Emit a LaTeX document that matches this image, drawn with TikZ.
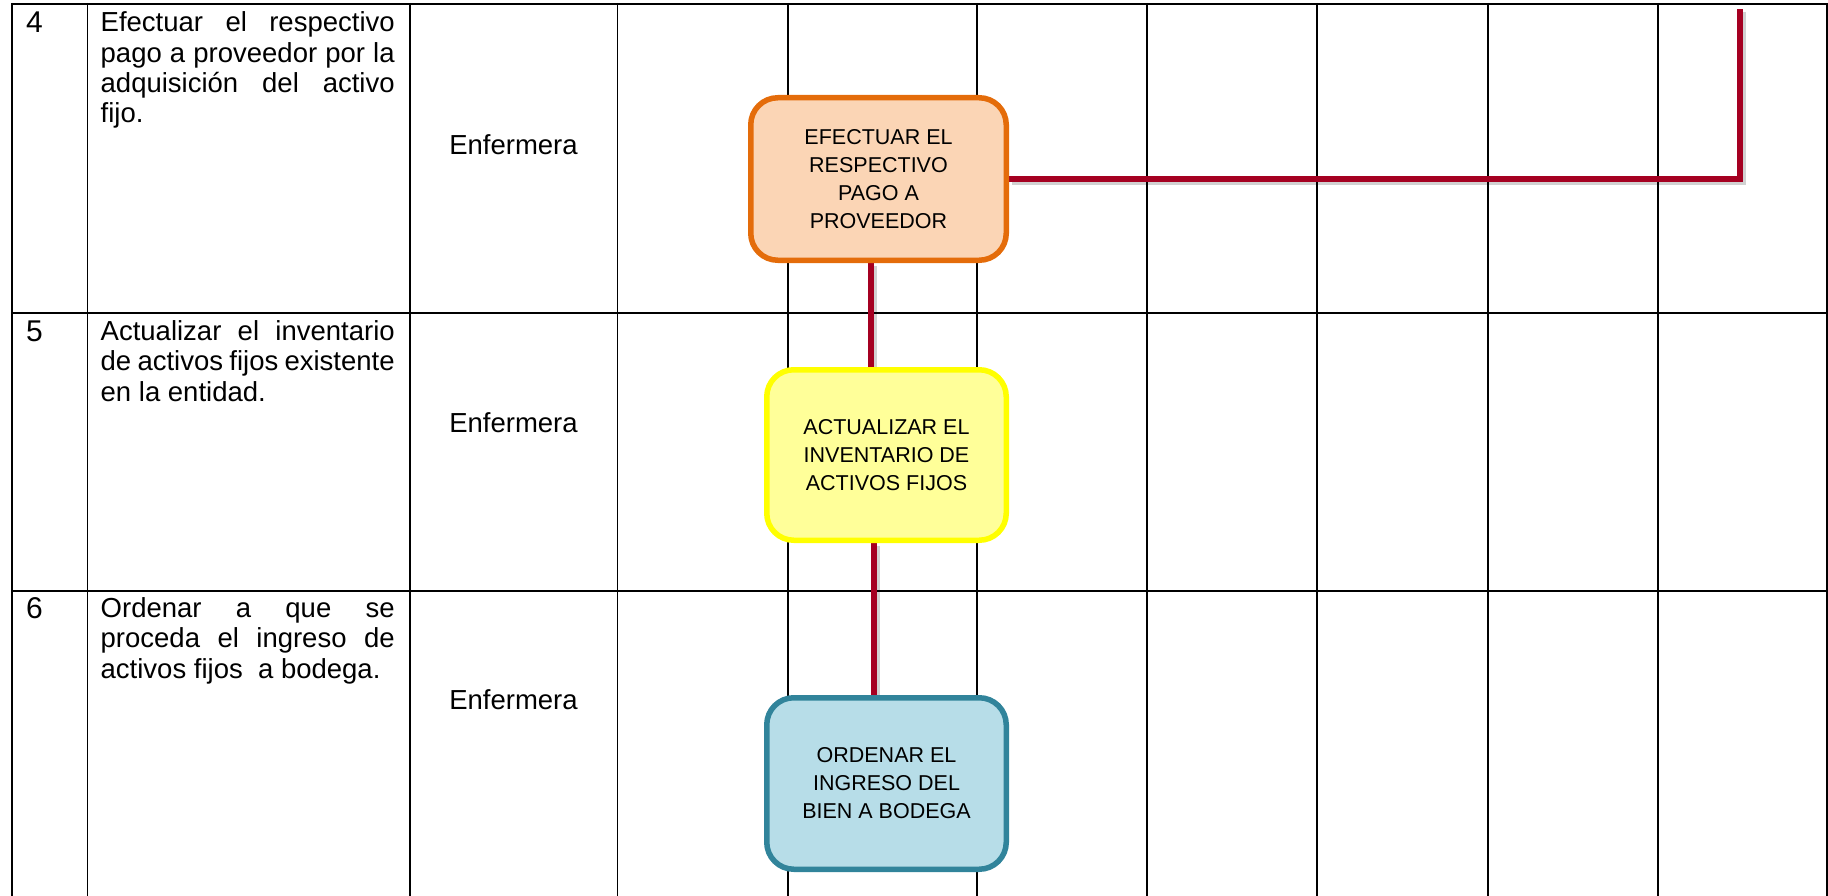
\documentclass[tikz,border=0pt]{standalone}
\usepackage{fontspec}
\setmainfont{Liberation Sans}
\usetikzlibrary{backgrounds}
\definecolor{conn}{HTML}{A50021}
\definecolor{orgS}{HTML}{E46C0A}
\definecolor{orgF}{HTML}{FBD5B5}
\definecolor{yelS}{HTML}{FFFF00}
\definecolor{yelF}{HTML}{FFFF99}
\definecolor{bluS}{HTML}{31849B}
\definecolor{bluF}{HTML}{B7DDE8}
\newcommand\jline[1]{\makebox[294pt][s]{#1}}
\newcommand\descfont{\fontsize{27.5}{30.3}\selectfont}
\begin{document}
\begin{tikzpicture}[x=1pt,y=-1pt,
  vline/.style={line width=1.9pt, black},
  hline/.style={line width=2.6pt, black},
  procbox/.style={rectangle, rounded corners=27pt, line width=5.5pt, align=center,
    font=\fontsize{21.5}{28}\selectfont, inner sep=0pt},
  numtxt/.style={anchor=base west, inner sep=0pt, font=\fontsize{30}{32}\selectfont},
  desctxt/.style={anchor=base west, inner sep=0pt},
  roltxt/.style={anchor=base, inner sep=0pt, font=\descfont},
  connline/.style={line width=5.4pt, draw=conn},
  connshadow/.style={line width=6pt, draw=black, opacity=0.18,
    transform canvas={shift={(3pt,-3pt)}}}
]
\useasboundingbox (0,0) rectangle (1828,896);

% process boxes
\node[procbox, draw=orgS, fill=orgF, minimum width=255.5pt, minimum height=162.5pt]
  (pago) at (878.5,179) {EFECTUAR EL\\RESPECTIVO\\PAGO A\\PROVEEDOR};
\node[procbox, draw=yelS, fill=yelF, minimum width=239.5pt, minimum height=170.5pt]
  (inv) at (886.5,455) {ACTUALIZAR EL\\INVENTARIO DE\\ACTIVOS FIJOS};
\node[procbox, draw=bluS, fill=bluF, minimum width=239.5pt, minimum height=171.5pt]
  (ord) at (886.5,783.5) {ORDENAR EL\\INGRESO DEL\\BIEN A BODEGA};

% row 4
\node[numtxt] (n4) at (26,33) {4};
\node[desctxt] (d4) at (100.5,32) {\parbox[t]{294pt}{\descfont
  \jline{Efectuar el respectivo}\\
  \jline{pago a proveedor por la}\\
  \jline{adquisición del activo}\\
  fijo.}};
\node[roltxt] (r4) at (513.5,154.5) {Enfermera};

% row 5
\node[numtxt] (n5) at (26,341) {5};
\node[desctxt] (d5) at (100.5,340.5) {\parbox[t]{294pt}{\descfont
  \jline{Actualizar el inventario}\\
  \jline{de activos fijos existente}\\
  en la entidad.}};
\node[roltxt] (r5) at (513.5,432.5) {Enfermera};

% row 6
\node[numtxt] (n6) at (26,618) {6};
\node[desctxt] (d6) at (100.5,617.5) {\parbox[t]{294pt}{\descfont
  \jline{Ordenar a que se}\\
  \jline{proceda el ingreso de}\\
  activos fijos\ \ a bodega.}};
\node[roltxt] (r6) at (513.5,709) {Enfermera};

\begin{pgfonlayer}{background}
  % table grid
  \foreach \xx in {12,87.5,410,617.5,788,977,1147,1317,1488,1658,1827}
    \draw[vline] (\xx,3) -- (\xx,896);
  \foreach \yy in {4,313,591}
    \draw[hline] (11,\yy) -- (1828,\yy);
  % connectors
  \coordinate (topend) at (1740,9);
  \coordinate (c1) at (871,0);
  \coordinate (c2) at (874,0);
  \draw[connshadow] (pago.east) -| (topend);
  \draw[connshadow] (pago.south -| c1) -- (inv.north -| c1);
  \draw[connshadow] (inv.south -| c2) -- (ord.north -| c2);
  \draw[connline] (pago.east) -| (topend);
  \draw[connline] (pago.south -| c1) -- (inv.north -| c1);
  \draw[connline] (inv.south -| c2) -- (ord.north -| c2);
\end{pgfonlayer}
\end{tikzpicture}
\end{document}
